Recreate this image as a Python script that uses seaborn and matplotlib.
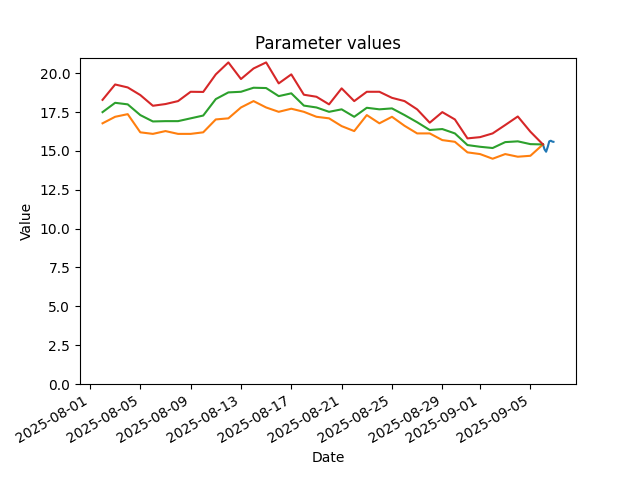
import numpy as np
import pandas as pd
import matplotlib
matplotlib.use("Agg")
import matplotlib.pyplot as plt
import seaborn as sns

# daily bands, 2025-08-02 .. 2025-09-06
dates = pd.date_range("2025-08-02", "2025-09-06", freq="D")

lower = [16.78, 17.2, 17.37, 16.2, 16.1, 16.28, 16.1, 16.1, 16.2, 17.03,
         17.1, 17.8, 18.21, 17.8, 17.52, 17.72, 17.52, 17.2, 17.1, 16.6,
         16.28, 17.31, 16.78, 17.2, 16.62, 16.13, 16.13, 15.7, 15.59, 14.91,
         14.8, 14.5, 14.8, 14.63, 14.69, 15.42]

mean = [17.5, 18.1, 18.0, 17.31, 16.9, 16.92, 16.92, 17.1, 17.28, 18.34,
        18.77, 18.81, 19.07, 19.05, 18.53, 18.71, 17.92, 17.8, 17.52, 17.68,
        17.2, 17.78, 17.68, 17.74, 17.31, 16.85, 16.35, 16.41, 16.13, 15.38,
        15.27, 15.19, 15.57, 15.62, 15.44, 15.42]

upper = [18.29, 19.28, 19.09, 18.6, 17.91, 18.02, 18.21, 18.81, 18.8, 19.93,
         20.7, 19.63, 20.31, 20.7, 19.35, 19.93, 18.62, 18.49, 18.0, 19.03,
         18.21, 18.81, 18.81, 18.42, 18.21, 17.68, 16.82, 17.5, 17.03, 15.81,
         15.89, 16.13, 16.67, 17.22, 16.24, 15.42]

# last observed values (3-hourly on 2025-09-06)
obs_times = pd.date_range("2025-09-06 00:00", periods=8, freq="3h")[:7].append(
    pd.DatetimeIndex(["2025-09-06 20:00"]))
obs_values = [15.42, 15.1, 14.95, 15.25, 15.62, 15.66, 15.6, 15.59]

fig, ax = plt.subplots(figsize=(6.4, 4.8))

sns.lineplot(x=obs_times, y=obs_values, ax=ax, color="C0")
sns.lineplot(x=dates, y=lower, ax=ax, color="C1")
sns.lineplot(x=dates, y=mean, ax=ax, color="C2")
sns.lineplot(x=dates, y=upper, ax=ax, color="C3")

ax.set_ylim(bottom=0)
ax.set_title("Parameter values")
ax.set_xlabel("Date")
ax.set_ylabel("Value")
fig.autofmt_xdate()

plt.savefig("out.png", dpi=100)
